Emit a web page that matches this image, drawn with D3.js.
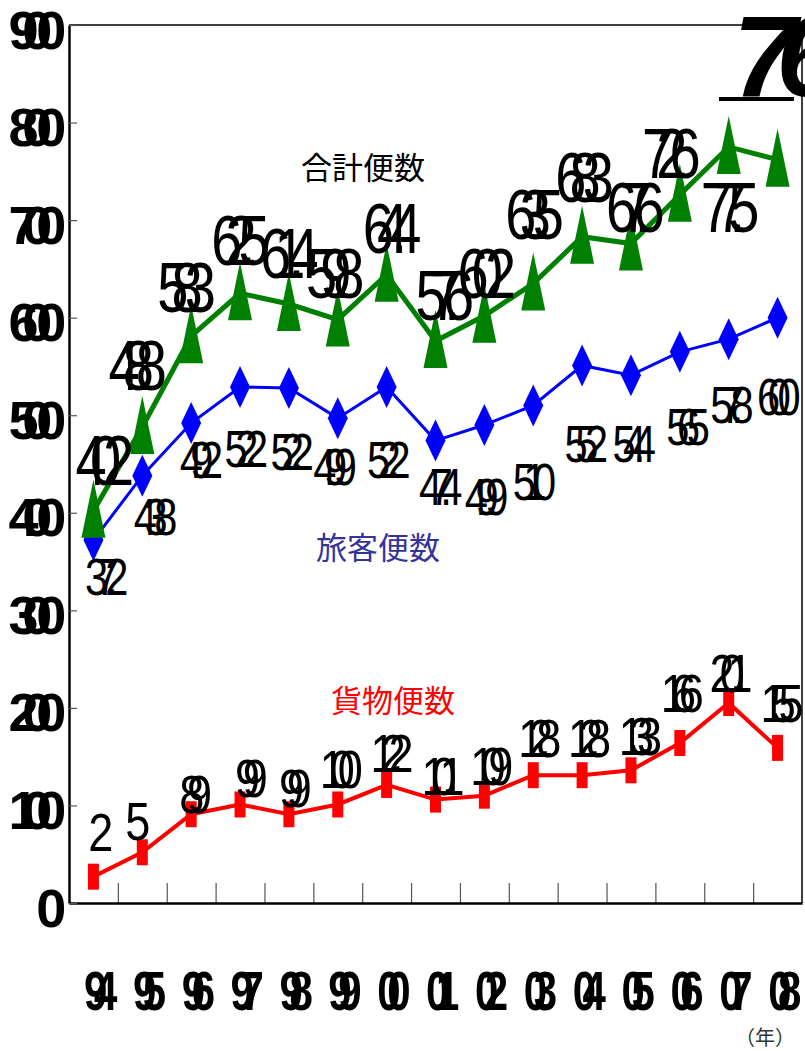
<!DOCTYPE html>
<html>
<head>
<meta charset="utf-8">
<script src="https://cdn.jsdelivr.net/npm/d3@7"></script>
<style>
  body { margin: 0; background: #fff; }
  svg { display: block; }
</style>
</head>
<body>
<script>
// years on the x axis
var years = ['94', '95', '96', '97', '98', '99', '00', '01', '02', '03', '04', '05', '06', '07', '08'];

// flights per year
var totalFlights = [40.2, 48.8, 58.1, 62.5, 61.4, 59.8, 64.4, 57.6, 60.2, 63.5, 68.3, 67.6, 72.6, 77.5, 76.2];
var passengerFlights = [37.2, 43.8, 49.2, 52.9, 52.8, 49.7, 52.9, 47.4, 49.0, 51.0, 55.1, 54.1, 56.5, 57.8, 60.0];
var cargoFlights = [2.7, 5.2, 9.1, 10.1, 9.1, 10.1, 12.1, 10.6, 11.0, 13.1, 13.1, 13.6, 16.4, 20.5, 15.9];

// the data labels as printed
var totalLabels = ['40.2', '48.8', '58.3', '62.5', '61.4', '59.8', '64.4', '57.6', '60.2', '63.5', '68.3', '67.6', '72.6', '77.5', '76.2'];
var passengerLabels = ['37.2', '43.8', '49.2', '52.2', '52.2', '49.9', '52.2', '47.4', '49.9', '51.0', '55.2', '54.4', '56.5', '57.8', '60.0'];
var cargoLabels = ['2', '5', '8.9', '9.9', '9.9', '10.0', '12.2', '10.1', '10.9', '12.8', '12.8', '13.3', '16.6', '20.1', '15.5'];

// y axis ticks
var yTickValues = [0, 10, 20, 30, 40, 50, 60, 70, 80, 90];
var yTickLabels = ['0', '100', '200', '300', '400', '500', '600', '700', '800', '900'];

// label nudges [dx, dy] from each marker
var totalShift = [[3, -26], [-13, -37], [-13, -24], [-8, -28], [-8, -26], [-11, -22], [-3, -22], [1, -21], [-6, -18], [-7, -45], [-6, -35], [-4, -12], [-17, -17], [-7, 85], [0, 0]];
var passengerShift = [[7, 55], [7, 59], [4, 55], [0, 80], [-3, 82], [-9, 67], [-4, 91], [-1, 64], [-4, 90], [-5, 95], [-2, 97], [-3, 87], [2, 93], [-3, 84], [-5, 97]];
var cargoShift = [[0, -26], [-12, -12], [-3, -1], [4, -7], [-1, -7], [-4, -16], [-2, -13], [0, -5], [0, -11], [-1, -18], [0, -18], [2, -15], [-5, -31], [-5, -11], [-3, -26]];

var width = 805;
var height = 1051;
var plotLeft = 69, plotRight = 802, plotTop = 25, plotBottom = 903;
var font = "'Liberation Sans', Arial, sans-serif";

var x = d3.scalePoint().domain(years).range([plotLeft, plotRight]).padding(0.5);
var xEdge = d3.scaleLinear().domain([0, years.length]).range([plotLeft, plotRight]);
var y = d3.scaleLinear().domain([0, 90]).range([plotBottom, plotTop]);

var svg = d3.select('body').append('svg')
  .attr('width', width)
  .attr('height', height)
  .style('font-family', font);

// top and right frame
svg.append('path')
  .attr('d', 'M' + plotLeft + ',' + plotTop + 'H' + plotRight + 'V' + plotBottom)
  .attr('fill', 'none')
  .attr('stroke', '#000')
  .attr('stroke-width', 1.5);

// small ticks between years
svg.append('g')
  .attr('transform', 'translate(0,' + plotBottom + ')')
  .call(d3.axisBottom(xEdge).tickValues(d3.range(1, years.length)).tickSizeInner(-20).tickSizeOuter(0).tickFormat(''))
  .call(function (g) { g.select('.domain').remove(); })
  .selectAll('.tick line').attr('stroke', '#555').attr('stroke-width', 1.2);

// x axis with year labels
var gx = svg.append('g')
  .attr('transform', 'translate(0,' + plotBottom + ')')
  .call(d3.axisBottom(x).tickSize(0).tickSizeOuter(0));
gx.select('.domain').attr('stroke', '#000').attr('stroke-width', 2.5);
gx.selectAll('.tick text')
  .attr('y', 107)
  .attr('dy', 0)
  .attr('transform', 'scale(0.75,1)')
  .attr('font-family', font)
  .attr('font-size', 56)
  .attr('font-weight', 'bold')
  .attr('letter-spacing', '-0.32em')
  .attr('fill', '#000');

// y axis
var gy = svg.append('g')
  .attr('transform', 'translate(' + plotLeft + ',0)')
  .call(d3.axisLeft(y)
    .tickValues(yTickValues)
    .tickFormat(function (d, i) { return yTickLabels[i]; })
    .tickSizeInner(-8)
    .tickSizeOuter(0)
    .tickPadding(19));
gy.select('.domain').attr('stroke', '#000').attr('stroke-width', 2.5);
gy.selectAll('.tick line').attr('stroke', '#555').attr('stroke-width', 1.2);
gy.selectAll('.tick text')
  .attr('dy', 23)
  .attr('font-family', font)
  .attr('font-size', 54)
  .attr('font-weight', 'bold')
  .attr('letter-spacing', '-0.3em')
  .attr('fill', '#000');

// lines
function drawLine(values, color, w) {
  var line = d3.line()
    .x(function (d, i) { return x(years[i]); })
    .y(function (d) { return y(d); });
  svg.append('path')
    .datum(values)
    .attr('d', line)
    .attr('fill', 'none')
    .attr('stroke', color)
    .attr('stroke-width', w)
    .attr('stroke-linejoin', 'miter');
}

drawLine(cargoFlights, '#ff0000', 4);
drawLine(passengerFlights, '#0000ff', 3);
drawLine(totalFlights, '#008000', 5);

// markers
svg.append('g').selectAll('rect')
  .data(cargoFlights)
  .enter()
  .append('rect')
    .attr('x', function (d, i) { return x(years[i]) - 5.5; })
    .attr('y', function (d) { return y(d) - 13; })
    .attr('width', 11)
    .attr('height', 26)
    .attr('fill', '#ff0000');

svg.append('g').selectAll('path')
  .data(passengerFlights)
  .enter()
  .append('path')
    .attr('transform', function (d, i) { return 'translate(' + x(years[i]) + ',' + y(d) + ')'; })
    .attr('d', 'M0,-21L10,0L0,21L-10,0Z')
    .attr('fill', '#0000ff');

svg.append('g').selectAll('path')
  .data(totalFlights)
  .enter()
  .append('path')
    .attr('transform', function (d, i) { return 'translate(' + x(years[i]) + ',' + y(d) + ')'; })
    .attr('d', 'M0,-31L12,27L-12,27Z')
    .attr('fill', '#008000');

// data labels
function drawLabels(values, labels, shift, size, sx, spacing, skipLast) {
  var g = svg.append('g');
  values.forEach(function (v, i) {
    if (skipLast && i === values.length - 1) return;
    g.append('text')
      .attr('transform', 'translate(' + (x(years[i]) + shift[i][0]) + ',' + (y(v) + shift[i][1]) + ') scale(' + sx + ',1)')
      .attr('text-anchor', 'middle')
      .attr('font-size', size)
      .attr('letter-spacing', spacing)
      .attr('fill', '#000')
      .text(labels[i]);
  });
}

drawLabels(totalFlights, totalLabels, totalShift, 70, 0.8, '-0.3em', true);
drawLabels(passengerFlights, passengerLabels, passengerShift, 52, 0.8, '-0.3em', false);
drawLabels(cargoFlights, cargoLabels, cargoShift, 53, 0.85, '-0.33em', false);

// the last total label sits large in the top right corner
var last = totalLabels.length - 1;
svg.append('text')
  .attr('x', 733)
  .attr('y', 96)
  .attr('font-size', 115)
  .attr('font-weight', 'bold')
  .attr('font-style', 'italic')
  .attr('letter-spacing', '-0.18em')
  .attr('fill', '#000')
  .text(totalLabels[last]);
svg.append('rect')
  .attr('x', 719)
  .attr('y', 97)
  .attr('width', 75)
  .attr('height', 4)
  .attr('fill', '#000');

// series names
var cjk = "'Noto Sans CJK JP', sans-serif";
svg.append('text').attr('x', 363).attr('y', 179).attr('text-anchor', 'middle')
  .attr('font-family', cjk).attr('font-size', 31).attr('fill', '#000').text('合計便数');
svg.append('text').attr('x', 378).attr('y', 559).attr('text-anchor', 'middle')
  .attr('font-family', cjk).attr('font-size', 31).attr('fill', '#333399').text('旅客便数');
svg.append('text').attr('x', 393).attr('y', 712).attr('text-anchor', 'middle')
  .attr('font-family', cjk).attr('font-size', 31).attr('fill', '#ff0000').text('貨物便数');

// unit
svg.append('text').attr('x', 765).attr('y', 1045).attr('text-anchor', 'middle')
  .attr('font-family', cjk).attr('font-size', 20).attr('fill', '#333').text('（年）');
</script>
</body>
</html>
